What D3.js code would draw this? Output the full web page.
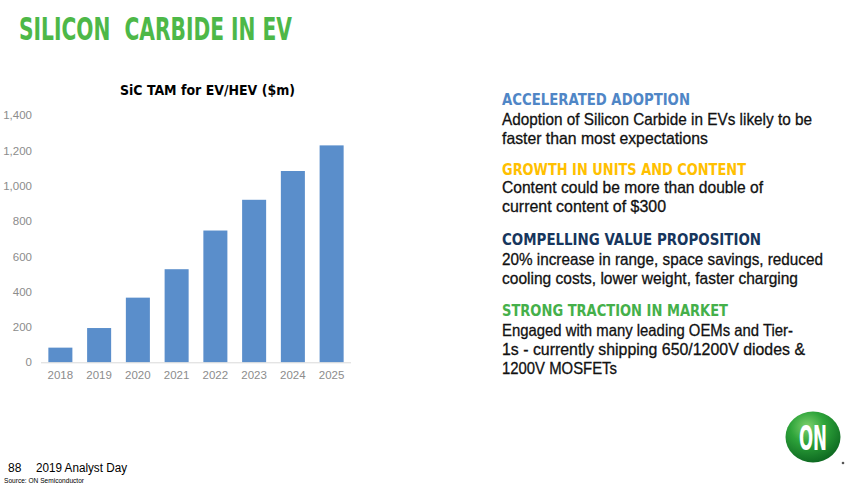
<!DOCTYPE html>
<html>
<head>
<meta charset="utf-8">
<script src="https://cdn.jsdelivr.net/npm/d3@7"></script>
<style>
  html, body { margin: 0; padding: 0; background: #fff; }
  svg { display: block; }
</style>
</head>
<body>
<svg id="chart" width="862" height="485"></svg>
<script>
// ---- data ----
const categories = ["2018", "2019", "2020", "2021", "2022", "2023", "2024", "2025"];
const values = [83, 194, 366, 527, 746, 920, 1083, 1228];
const yTicks = [0, 200, 400, 600, 800, 1000, 1200, 1400];
const chartTitle = "SiC TAM for EV/HEV ($m)";
const slideTitle = "SILICON  CARBIDE IN EV";
const headings = ["ACCELERATED ADOPTION", "GROWTH IN UNITS AND CONTENT", "COMPELLING VALUE PROPOSITION", "STRONG TRACTION IN MARKET"];
const bodies = [
  ["Adoption of Silicon Carbide in EVs likely to be", "faster than most expectations"],
  ["Content could be more than double of", "current content of $300"],
  ["20% increase in range, space savings, reduced", "cooling costs, lower weight, faster charging"],
  ["Engaged with many leading OEMs and Tier-", "1s - currently shipping 650/1200V diodes &", "1200V MOSFETs"]
];

// ---- layout ----
const svg = d3.select("#chart");
const condensed = "'DejaVu Sans Condensed', 'DejaVu Sans', 'Liberation Sans', Arial, sans-serif";
const headingColors = ["#4f86c6", "#ffc000", "#17365d", "#45b04a"];
const headingY = [105, 175, 245, 316];
const headingW = [188, 244, 259, 226];
const bodyY = [[124.5, 143.5], [193, 212], [264.5, 284], [336, 355, 374]];
const bodyW = [[310, 206], [261, 164], [321, 296], [291, 303, 115]];

// slide title
svg.append("text")
  .attr("x", 19).attr("y", 39.5)
  .attr("font-family", condensed)
  .attr("font-weight", "bold").attr("font-size", 32)
  .attr("fill", "#4db848")
  .attr("textLength", 273).attr("lengthAdjust", "spacingAndGlyphs")
  .style("white-space", "pre")
  .text(slideTitle);

// chart title
svg.append("text")
  .attr("x", 120).attr("y", 95)
  .attr("font-family", condensed)
  .attr("font-weight", "bold").attr("font-size", 14)
  .attr("fill", "#000")
  .attr("textLength", 175).attr("lengthAdjust", "spacingAndGlyphs")
  .text(chartTitle);

// scales
const x = d3.scaleBand().domain(categories).range([41, 351]).paddingInner(0.38).paddingOuter(0.19);
const y = d3.scaleLinear().domain([0, 1400]).range([362.3, 115]);

// bars
svg.append("g").selectAll("rect")
  .data(values)
  .join("rect")
  .attr("x", (d, i) => x(categories[i]))
  .attr("y", d => y(d))
  .attr("width", x.bandwidth())
  .attr("height", d => y(0) - y(d))
  .attr("fill", "#5a8ecb");

// y axis labels
const yAxis = d3.axisLeft(y).tickValues(yTicks).tickSize(0).tickPadding(0).tickFormat(d3.format(","));
const gy = svg.append("g").attr("transform", "translate(32,0)").call(yAxis);
gy.select(".domain").remove();
gy.selectAll("text")
  .attr("font-family", "'Liberation Sans', Arial, sans-serif")
  .attr("font-size", 11.5).attr("fill", "#8c8c8c");

// x axis
const xAxis = d3.axisBottom(x).tickSize(0).tickPadding(9);
const gx = svg.append("g").attr("transform", `translate(0,${y(0)})`).call(xAxis);
gx.select(".domain").attr("stroke", "#d9d9d9").attr("d", "M41,0.5H351");
gx.selectAll("text")
  .attr("font-family", "'Liberation Sans', Arial, sans-serif")
  .attr("font-size", 11.5).attr("fill", "#8c8c8c");

// right-side text
const tg = svg.append("g");
headings.forEach((h, i) => {
  tg.append("text")
    .attr("x", 502).attr("y", headingY[i])
    .attr("font-family", condensed)
    .attr("font-weight", "bold").attr("font-size", 15)
    .attr("fill", headingColors[i])
    .attr("textLength", headingW[i]).attr("lengthAdjust", "spacingAndGlyphs")
    .text(h);
  bodies[i].forEach((line, j) => {
    tg.append("text")
      .attr("x", 502).attr("y", bodyY[i][j])
      .attr("font-family", "'Liberation Sans', Arial, sans-serif")
      .attr("font-size", 16.5)
      .attr("fill", "#111").attr("stroke", "#111").attr("stroke-width", 0.3)
      .attr("textLength", bodyW[i][j]).attr("lengthAdjust", "spacingAndGlyphs")
      .text(line);
  });
});

// footer
svg.append("text").attr("x", 8).attr("y", 472)
  .attr("font-family", "'Liberation Sans Narrow', 'Liberation Sans', Arial, sans-serif")
  .attr("font-size", 12).attr("fill", "#000").text("88");
svg.append("text").attr("x", 36).attr("y", 472)
  .attr("font-family", "'Liberation Sans Narrow', 'Liberation Sans', Arial, sans-serif")
  .attr("font-size", 12).attr("fill", "#000")
  .attr("textLength", 91).attr("lengthAdjust", "spacingAndGlyphs")
  .text("2019 Analyst Day");
svg.append("text").attr("x", 4).attr("y", 483)
  .attr("font-family", "'Liberation Sans Narrow', 'Liberation Sans', Arial, sans-serif")
  .attr("font-size", 7.5).attr("fill", "#000")
  .attr("textLength", 80).attr("lengthAdjust", "spacingAndGlyphs")
  .text("Source: ON Semiconductor");

// ON logo
const defs = svg.append("defs");
const grad = defs.append("radialGradient").attr("id", "onGrad")
  .attr("cx", "40%").attr("cy", "30%").attr("r", "70%");
grad.append("stop").attr("offset", "0%").attr("stop-color", "#7fd16e");
grad.append("stop").attr("offset", "45%").attr("stop-color", "#2ea43a");
grad.append("stop").attr("offset", "100%").attr("stop-color", "#0f6b22");
svg.append("ellipse").attr("cx", 813).attr("cy", 437).attr("rx", 27.5).attr("ry", 25.5)
  .attr("fill", "url(#onGrad)");
svg.append("text").attr("x", 813).attr("y", 450)
  .attr("text-anchor", "middle")
  .attr("font-family", condensed)
  .attr("font-weight", "bold").attr("font-size", 34).attr("fill", "#fff")
  .attr("textLength", 28).attr("lengthAdjust", "spacingAndGlyphs")
  .text("ON");
svg.append("circle").attr("cx", 843).attr("cy", 463).attr("r", 1.3).attr("fill", "#555");
</script>
</body>
</html>
